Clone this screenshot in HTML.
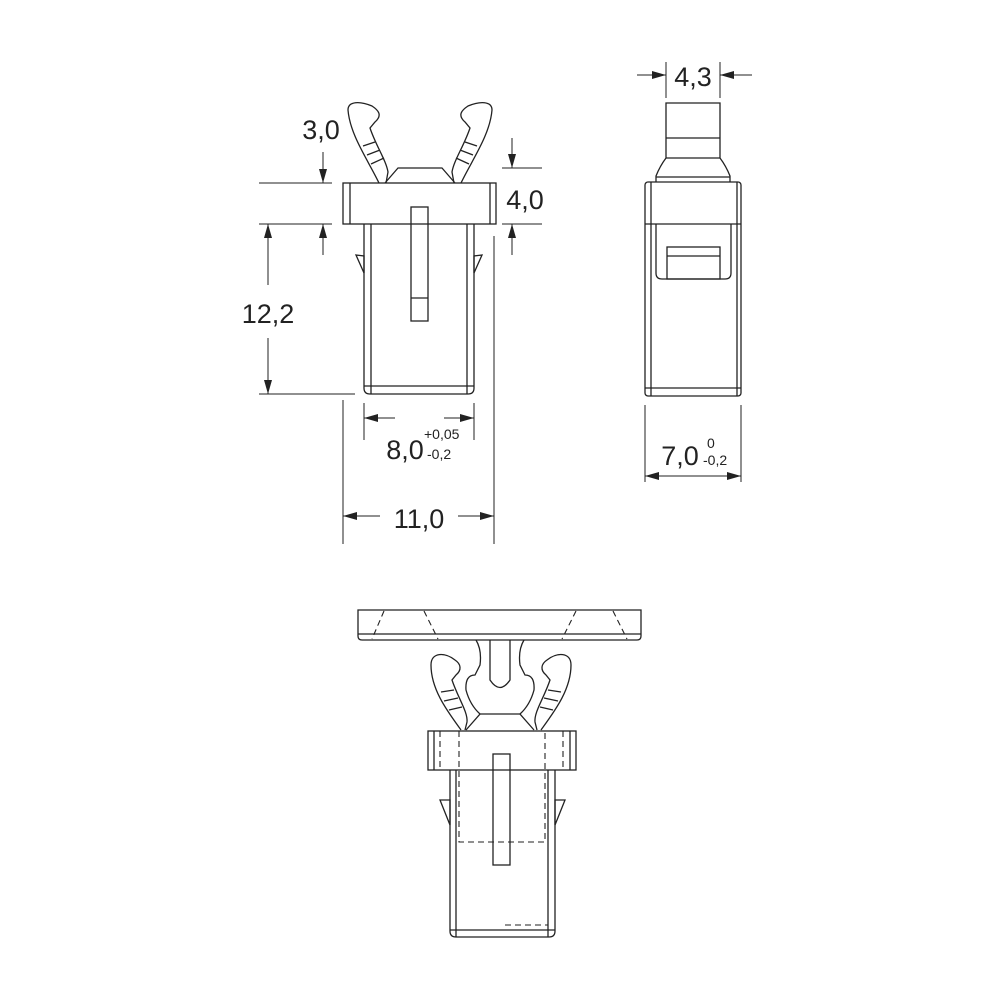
<!DOCTYPE html>
<html><head><style>html,body{margin:0;padding:0;background:#fff}svg{display:block}text{font-family:"Liberation Sans",sans-serif;fill:#222}</style></head>
<body>
<svg width="1000" height="1000" viewBox="0 0 1000 1000" xmlns="http://www.w3.org/2000/svg">
<defs>
<marker id="a" viewBox="0 0 14 8" refX="14" refY="4" markerWidth="14" markerHeight="8" orient="auto-start-reverse" markerUnits="userSpaceOnUse"><path d="M0,0L14,4L0,8z" fill="#222"/></marker>
<g id="armF">
<path d="M379,183 C368,160 350,135 348,110 C348,101 360,101 372,106 C378,110 383,115 375,122 L370,128 C376,146 386,160 388,172 L386,183" fill="none"/>
<line x1="363" y1="146" x2="375" y2="142"/><line x1="367" y1="155" x2="380" y2="150"/><line x1="371" y1="164" x2="384" y2="158"/>
</g>
<g id="armB">
<path d="M461,730 C448,712 431,690 431,665 C431,652 445,652 455,660 C461,664 462,670 456,675 L452,680 C458,698 468,712 467,722 L465,730" fill="none"/>
<line x1="441" y1="692" x2="454" y2="690"/><line x1="444" y1="701" x2="458" y2="698"/><line x1="449" y1="710" x2="462" y2="707"/>
</g>
</defs>
<g stroke="#222" stroke-width="1.3" fill="none">
<!-- FRONT VIEW -->
<rect x="343" y="183" width="153" height="41"/>
<line x1="350" y1="183" x2="350" y2="224"/><line x1="490" y1="183" x2="490" y2="224"/>
<path d="M364,224 L364,388 Q364,394 370,394 L468,394 Q474,394 474,388 L474,224"/>
<line x1="371" y1="224" x2="371" y2="394"/><line x1="467" y1="224" x2="467" y2="394"/>
<line x1="364" y1="386" x2="474" y2="386"/>
<rect x="411" y="207" width="17" height="114"/><line x1="411" y1="298" x2="428" y2="298"/>
<path d="M385,183 L398,168 L442,168 L455,183"/>
<use href="#armF"/>
<use href="#armF" transform="translate(840,0) scale(-1,1)"/>
<path d="M356,255 L364,256 L364,273 Z"/><path d="M482,255 L474,256 L474,273 Z"/>
<!-- front dims -->
<g stroke-width="1">
<line x1="259" y1="183" x2="332" y2="183"/><line x1="259" y1="224" x2="332" y2="224"/><line x1="259" y1="394" x2="355" y2="394"/>
<line x1="323" y1="152" x2="323" y2="183" marker-end="url(#a)"/>
<line x1="323" y1="255" x2="323" y2="224" marker-end="url(#a)"/>
<line x1="268" y1="224" x2="268" y2="285" marker-start="url(#a)"/>
<line x1="268" y1="338" x2="268" y2="394" marker-end="url(#a)"/>
<line x1="502" y1="168" x2="542" y2="168"/><line x1="502" y1="224" x2="542" y2="224"/>
<line x1="512" y1="138" x2="512" y2="168" marker-end="url(#a)"/>
<line x1="512" y1="255" x2="512" y2="224" marker-end="url(#a)"/>
<line x1="364" y1="403" x2="364" y2="440"/><line x1="474" y1="403" x2="474" y2="440"/>
<line x1="395" y1="418" x2="364" y2="418" marker-end="url(#a)"/>
<line x1="444" y1="418" x2="474" y2="418" marker-end="url(#a)"/>
<line x1="343" y1="400" x2="343" y2="544"/><line x1="494" y1="236" x2="494" y2="544"/>
<line x1="380" y1="516" x2="343" y2="516" marker-end="url(#a)"/>
<line x1="458" y1="516" x2="494" y2="516" marker-end="url(#a)"/>
</g>
<!-- SIDE VIEW -->
<rect x="645" y="182" width="96" height="214" rx="3"/>
<line x1="651" y1="182" x2="651" y2="396"/><line x1="737" y1="182" x2="737" y2="396"/>
<line x1="645" y1="224" x2="741" y2="224"/><line x1="645" y1="388" x2="741" y2="388"/>
<path d="M656,224 L656,273 Q656,279 662,279 L725,279 Q731,279 731,273 L731,224"/>
<rect x="667" y="247" width="53" height="32"/><line x1="667" y1="256" x2="720" y2="256"/>
<path d="M656,182 L656,176 Q660,166 666,158 L666,103 L720,103 L720,158 Q726,166 730,176 L730,182"/>
<line x1="666" y1="138" x2="720" y2="138"/><line x1="666" y1="158" x2="720" y2="158"/>
<line x1="656" y1="177" x2="730" y2="177"/>
<g stroke-width="1">
<line x1="666" y1="62" x2="666" y2="98"/><line x1="720" y1="62" x2="720" y2="98"/>
<line x1="637" y1="75" x2="666" y2="75" marker-end="url(#a)"/>
<line x1="752" y1="75" x2="720" y2="75" marker-end="url(#a)"/>
<line x1="645" y1="405" x2="645" y2="482"/><line x1="741" y1="405" x2="741" y2="482"/>
<line x1="693" y1="476" x2="645" y2="476" marker-end="url(#a)"/>
<line x1="693" y1="476" x2="741" y2="476" marker-end="url(#a)"/>
</g>
<!-- BOTTOM VIEW -->
<path d="M358,610 L641,610 L641,636 Q641,640 637,640 L362,640 Q358,640 358,636 Z"/>
<line x1="358" y1="634" x2="641" y2="634"/>
<g stroke-dasharray="6,4" stroke-width="1.1">
<line x1="384" y1="611" x2="372" y2="639"/><line x1="424" y1="611" x2="438" y2="639"/>
<line x1="576" y1="611" x2="562" y2="639"/><line x1="613" y1="611" x2="627" y2="639"/>
</g>
<path d="M476,640 Q482,650 480,665 L475,675 Q465,675 466,690 Q470,705 480,714 L466,730 M524,640 Q518,650 520,665 L525,675 Q535,675 534,690 Q530,705 520,714 L534,730"/>
<path d="M490,640 L490,680 Q500,695 510,680 L510,640"/>
<path d="M480,714 L520,714"/>
<use href="#armB"/>
<use href="#armB" transform="translate(1002,0) scale(-1,1)"/>
<rect x="428" y="731" width="148" height="39"/>
<line x1="434" y1="731" x2="434" y2="770"/><line x1="570" y1="731" x2="570" y2="770"/>
<path d="M450,770 L450,931 Q450,937 456,937 L549,937 Q555,937 555,931 L555,770"/>
<line x1="456" y1="770" x2="456" y2="937"/><line x1="548" y1="770" x2="548" y2="937"/>
<line x1="450" y1="930" x2="555" y2="930"/>
<rect x="493" y="754" width="17" height="111"/>
<path d="M440,800 L450,800 L450,825 Z"/><path d="M565,800 L555,800 L555,825 Z"/>
<g stroke-dasharray="6,4" stroke-width="1.1">
<path d="M459,731 L459,842 L545,842 L545,731"/>
<line x1="440" y1="731" x2="440" y2="770"/><line x1="563" y1="731" x2="563" y2="770"/>
<line x1="505" y1="925" x2="548" y2="925"/>
</g>
</g>
<!-- Labels -->
<text x="321" y="139" font-size="27" text-anchor="middle">3,0</text>
<text x="525" y="209" font-size="27" text-anchor="middle">4,0</text>
<text x="268" y="323" font-size="27" text-anchor="middle">12,2</text>
<text x="405" y="459" font-size="27" text-anchor="middle">8,0</text>
<text x="424" y="439" font-size="14">+0,05</text>
<text x="427" y="459" font-size="14">-0,2</text>
<text x="419" y="528" font-size="27" text-anchor="middle">11,0</text>
<text x="693" y="86" font-size="27" text-anchor="middle">4,3</text>
<text x="680" y="465" font-size="27" text-anchor="middle">7,0</text>
<text x="707" y="448" font-size="14">0</text>
<text x="703" y="465" font-size="14">-0,2</text>
</svg>
</body></html>
